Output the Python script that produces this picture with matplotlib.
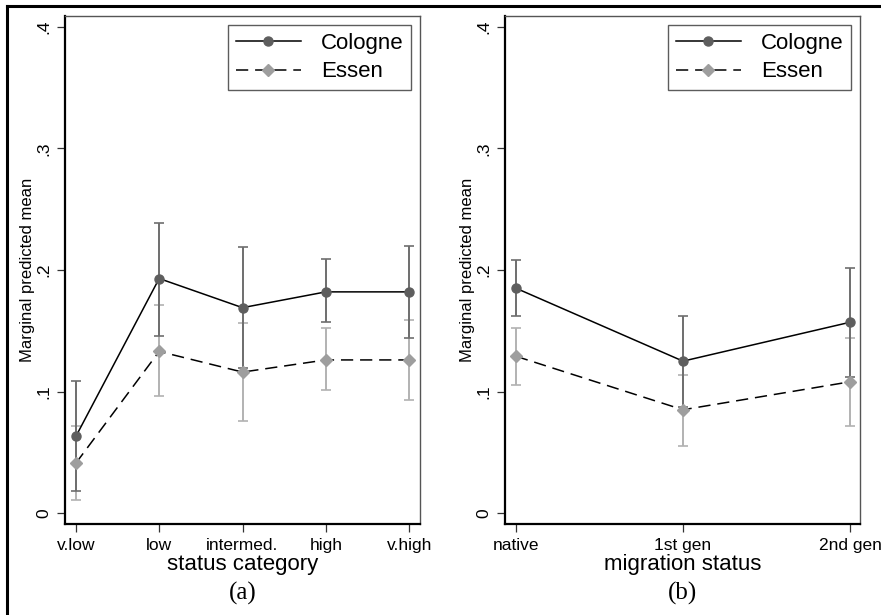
"""
Marginal predicted means by status category and migration status,
Cologne vs. Essen, with confidence intervals.
"""
import numpy as np
import matplotlib
matplotlib.use('Agg')
import matplotlib.pyplot as plt
from matplotlib.lines import Line2D

# panel (a): status category
status_labels = ['v.low', 'low', 'intermed.', 'high', 'v.high']
status_cologne = [0.063, 0.193, 0.169, 0.182, 0.182]
status_cologne_lo = [0.018, 0.146, 0.119, 0.157, 0.144]
status_cologne_hi = [0.109, 0.239, 0.219, 0.209, 0.220]
status_essen = [0.041, 0.133, 0.116, 0.126, 0.126]
status_essen_lo = [0.011, 0.096, 0.076, 0.101, 0.093]
status_essen_hi = [0.072, 0.171, 0.156, 0.152, 0.159]

# panel (b): migration status
migr_labels = ['native', '1st gen', '2nd gen']
migr_cologne = [0.185, 0.125, 0.157]
migr_cologne_lo = [0.162, 0.087, 0.112]
migr_cologne_hi = [0.208, 0.162, 0.202]
migr_essen = [0.129, 0.085, 0.108]
migr_essen_lo = [0.105, 0.055, 0.072]
migr_essen_hi = [0.152, 0.114, 0.144]

yticks = [0, 0.1, 0.2, 0.3, 0.4]
ytick_labels = ['0', '.1', '.2', '.3', '.4']

SANS = 'Liberation Sans'
DARK = '#5e5e5e'
DARK_CI = '#6e6e6e'
LIGHT = '#9e9e9e'
LIGHT_CI = '#b2b2b2'


def draw_panel(ax, labels, col, col_lo, col_hi, ess, ess_lo, ess_hi,
               xlim, xlabel, tag):
    x = np.arange(1, len(labels) + 1)
    col, ess = np.array(col), np.array(ess)

    ax.errorbar(x, ess, yerr=[ess - np.array(ess_lo), np.array(ess_hi) - ess],
                fmt='none', ecolor=LIGHT_CI, elinewidth=1.4, capsize=3.5,
                capthick=1.2, zorder=2)
    ax.errorbar(x, col, yerr=[col - np.array(col_lo), np.array(col_hi) - col],
                fmt='none', ecolor=DARK_CI, elinewidth=1.4, capsize=3.5,
                capthick=1.2, zorder=2)

    ax.plot(x, col, color='black', lw=1.1, marker='o', ms=6.5,
            mfc=DARK, mec=DARK, label='Cologne', zorder=3)
    ax.plot(x, ess, color='black', lw=1.1, dashes=(8, 4.5), marker='D', ms=6.5,
            mfc=LIGHT, mec=LIGHT, label='Essen', zorder=3)

    ax.set_xlim(*xlim)
    ax.set_ylim(-0.009, 0.409)
    ax.set_xticks(x)
    ax.set_xticklabels(labels, fontsize=12.5, family=SANS)
    ax.set_yticks(yticks)
    ax.set_yticklabels(ytick_labels, fontsize=12.5, family=SANS,
                       rotation=90, va='center')
    ax.tick_params(direction='out', length=6, width=0.9, color='#333333', pad=4)
    ax.set_ylabel('Marginal predicted mean', fontsize=12, family=SANS,
                  labelpad=1)
    ax.set_xlabel(xlabel, fontsize=16, family=SANS, labelpad=1)

    for side in ['left', 'bottom']:
        ax.spines[side].set_linewidth(1.6)
        ax.spines[side].set_color('black')
    for side in ['top', 'right']:
        ax.spines[side].set_linewidth(1.0)
        ax.spines[side].set_color('#555555')

    leg = ax.legend(loc='upper right', frameon=True,
                    fancybox=False, handlelength=2.9, borderpad=0.35,
                    labelspacing=0.35, handletextpad=0.9,
                    borderaxespad=0.4, prop={'family': SANS, 'size': 16})
    leg.get_frame().set_edgecolor('#333333')
    leg.get_frame().set_linewidth(1.0)

    # caption under the panel
    ax.text(0.5, -0.136, tag, transform=ax.transAxes, ha='center', va='center',
            fontsize=18, family='Liberation Serif')


def main():
    fig = plt.figure(figsize=(8.81, 6.15), dpi=100)

    ax1 = fig.add_axes([65 / 881, 91 / 615, 355 / 881, 508 / 615])
    ax2 = fig.add_axes([505 / 881, 91 / 615, 355 / 881, 508 / 615])

    draw_panel(ax1, status_labels, status_cologne, status_cologne_lo,
               status_cologne_hi, status_essen, status_essen_lo,
               status_essen_hi, (0.87, 5.13), 'status category', '(a)')
    draw_panel(ax2, migr_labels, migr_cologne, migr_cologne_lo,
               migr_cologne_hi, migr_essen, migr_essen_lo, migr_essen_hi,
               (0.934, 3.06), 'migration status', '(b)')

    # outer frame (left and top edges only are visible in the crop)
    fig.add_artist(Line2D([6.5 / 881, 6.5 / 881], [0, 1 - 6 / 615],
                          transform=fig.transFigure, color='black', lw=2.2))
    fig.add_artist(Line2D([6.5 / 881, 1], [1 - 6 / 615, 1 - 6 / 615],
                          transform=fig.transFigure, color='black', lw=2.2))

    fig.savefig('out.png', dpi=100, facecolor='white')


if __name__ == '__main__':
    main()
